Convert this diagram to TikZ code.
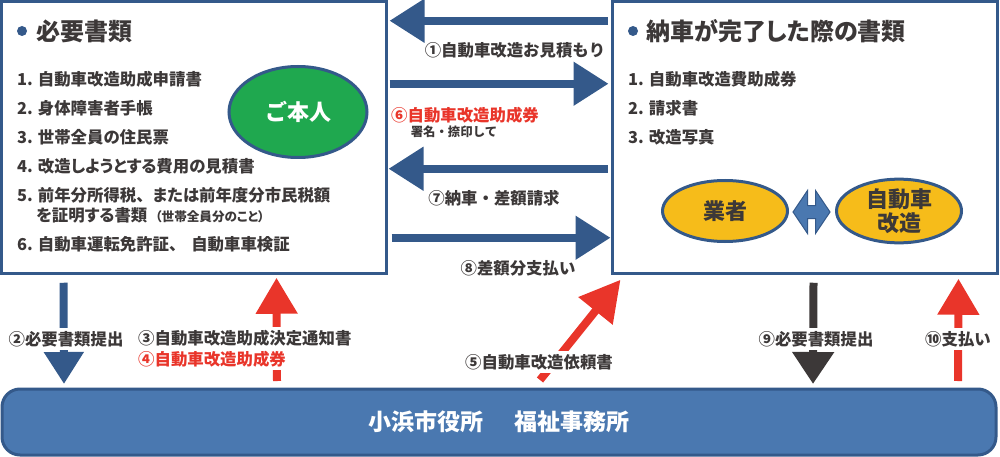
\documentclass[tikz,border=0pt]{standalone}
\usepackage{fontspec}
\setmainfont{Noto Sans CJK JP}
\newfontfamily\itemfont{Noto Sans CJK JP}[RawFeature=+palt]
\usepackage{tikz}
\usetikzlibrary{arrows.meta,%
                shapes,positioning}
\definecolor{navy}{HTML}{34598A}
\definecolor{barblue}{HTML}{4A78B0}
\definecolor{arrowred}{HTML}{E9352A}
\definecolor{ink}{HTML}{3C3838}
\definecolor{ovalgreen}{HTML}{1FA84F}
\definecolor{ovalyellow}{HTML}{F6BC1A}
\tikzset{
  docbox/.style={draw=navy,line width=3pt,fill=white,rectangle,outer sep=0pt,minimum width=385pt,minimum height=272.5pt},
  oval/.style={draw=navy,line width=3pt,ellipse,outer sep=0pt,inner sep=0pt,align=center,font=\fontsize{22}{24}\selectfont\bfseries},
  heading/.style={anchor=west,inner sep=0pt,text=ink,font=\itemfont\fontsize{24}{26}\selectfont\bfseries},
  item/.style={anchor=west,inner sep=0pt,text=ink,font=\itemfont\fontsize{16.4}{18}\selectfont\bfseries},
  dot/.style={circle,fill=navy,inner sep=0pt,minimum size=10pt},
  label/.style={fill=white,inner xsep=1pt,inner ysep=3pt,text=ink,font=\fontsize{16.4}{18}\selectfont\bfseries},
  redlabel/.style={label,text=arrowred},
  bluearrow/.style={draw=navy,line width=8pt,-{Triangle[width=42pt,length=35pt]}},
  redarrow/.style={draw=arrowred,line width=8pt,-{Triangle[width=40pt,length=36pt]}},
  darkarrow/.style={draw=ink,line width=8pt,-{Triangle[width=40pt,length=32pt]}}
}
\begin{document}
\begin{tikzpicture}[x=1pt,y=-1pt]
\useasboundingbox (0,0) rectangle (1000,457);
\node[docbox] (papers) at (194,137.5) {};
\node[docbox] (finished) at (805,137.5) {};
\node[draw=navy,line width=3pt,fill=barblue,rectangle,rounded corners=18pt,outer sep=0pt,minimum width=994pt,minimum height=66pt] (office) at (499,422) {};
\node[text=white,font=\fontsize{23}{25}\selectfont\bfseries] (officename) at (499,422) {小浜市役所\hspace{31pt}福祉事務所};
\node[dot] (dotL) at (22,31) {};
\node[heading] (titleL) at (36,31) {必要書類};
\node[item] (itemL1) at (17,79) {1. 自動車改造助成申請書};
\node[item] (itemL2) at (17,108) {2. 身体障害者手帳};
\node[item] (itemL3) at (17,137) {3. 世帯全員の住民票};
\node[item] (itemL4) at (17,166) {4. 改造しようとする費用の見積書};
\node[item] (itemL5) at (17,195) {5. 前年分所得税、\hspace{8pt}または前年度分市民税額};
\node[item] (itemL5b) at (36,215) {を証明する書類\hspace{8pt}{\fontsize{12.6}{14}\selectfont（世帯全員分のこと）}};
\node[item] (itemL6) at (17,244) {6. 自動車運転免許証、\hspace{14pt}自動車車検証};
\node[oval,fill=ovalgreen,text=white,minimum width=138pt,minimum height=91pt] (person) at (298,112) {ご本人};
\node[dot] (dotR) at (633,31) {};
\node[heading] (titleR) at (646,31) {納車が完了した際の書類};
\node[item] (itemR1) at (628,79) {1. 自動車改造費助成券};
\node[item] (itemR2) at (628,108) {2. 請求書};
\node[item] (itemR3) at (628,137) {3. 改造写真};
\node[oval,fill=ovalyellow,text=ink,minimum width=125pt,minimum height=61pt] (dealer) at (725,211) {業者};
\node[oval,fill=ovalyellow,text=ink,minimum width=125pt,minimum height=61pt] (work) at (899,211) {自動車\\改造};
\node[double arrow,draw=navy,fill=barblue,line width=1pt,inner sep=6pt,minimum height=37pt,minimum width=43pt,double arrow head extend=15pt,double arrow tip angle=112] (between) at (811.5,212) {};
\draw[bluearrow] ([shift={(-5,19.5)}]finished.north west) -- ([shift={(3,19.5)}]papers.north east);
\draw[bluearrow] ([shift={(3,82.5)}]papers.north east) -- ([shift={(-4,82.5)}]finished.north west);
\draw[bluearrow] ([shift={(-5,167.5)}]finished.north west) -- ([shift={(2,167.5)}]papers.north east);
\draw[bluearrow] ([shift={(5,236.5)}]papers.north east) -- ([shift={(-2,236.5)}]finished.north west);
\draw[bluearrow,-{Triangle[width=38pt,length=32pt]}] ([shift={(62,9)}]papers.south west) -- ([shift={(62,-5)}]office.north west);
\draw[redarrow] ([shift={(275,-8)}]office.north west) -- ([shift={(275,4)}]papers.south west);
\draw[redarrow,-{Triangle[width=42pt,length=40pt]}] ([shift={(538,-9)}]office.north west) -- ([shift={(8,6)}]finished.south west);
\draw[darkarrow] ([shift={(201,9)}]finished.south west) -- ([shift={(811,-5)}]office.north west);
\draw[redarrow] ([shift={(956,-8)}]office.north west) -- ([shift={(346,5)}]finished.south west);
\node[label,fill=none] (l1) at (515,50) {①自動車改造お見積もり};
\node[redlabel,fill=none] (l6) at (465,115) {⑥自動車改造助成券};
\node[label,fill=none,font=\fontsize{12.4}{14}\selectfont\bfseries] (l6b) at (454,132) {署名・捺印して};
\node[label,fill=none] (l7) at (494,198) {⑦納車・差額請求};
\node[label,fill=none] (l8) at (518,268) {⑧差額分支払い};
\node[label] (l2) at (66,339) {②必要書類提出};
\node[label,anchor=west] (l3) at (137,338) {③自動車改造助成決定通知書};
\node[redlabel,anchor=west] (l4) at (137,359) {④自動車改造助成券};
\node[label] (l5) at (539,362) {⑤自動車改造依頼書};
\node[label] (l9) at (816,339) {⑨必要書類提出};
\node[label] (l10) at (958,339) {⑩支払い};
\end{tikzpicture}
\end{document}
